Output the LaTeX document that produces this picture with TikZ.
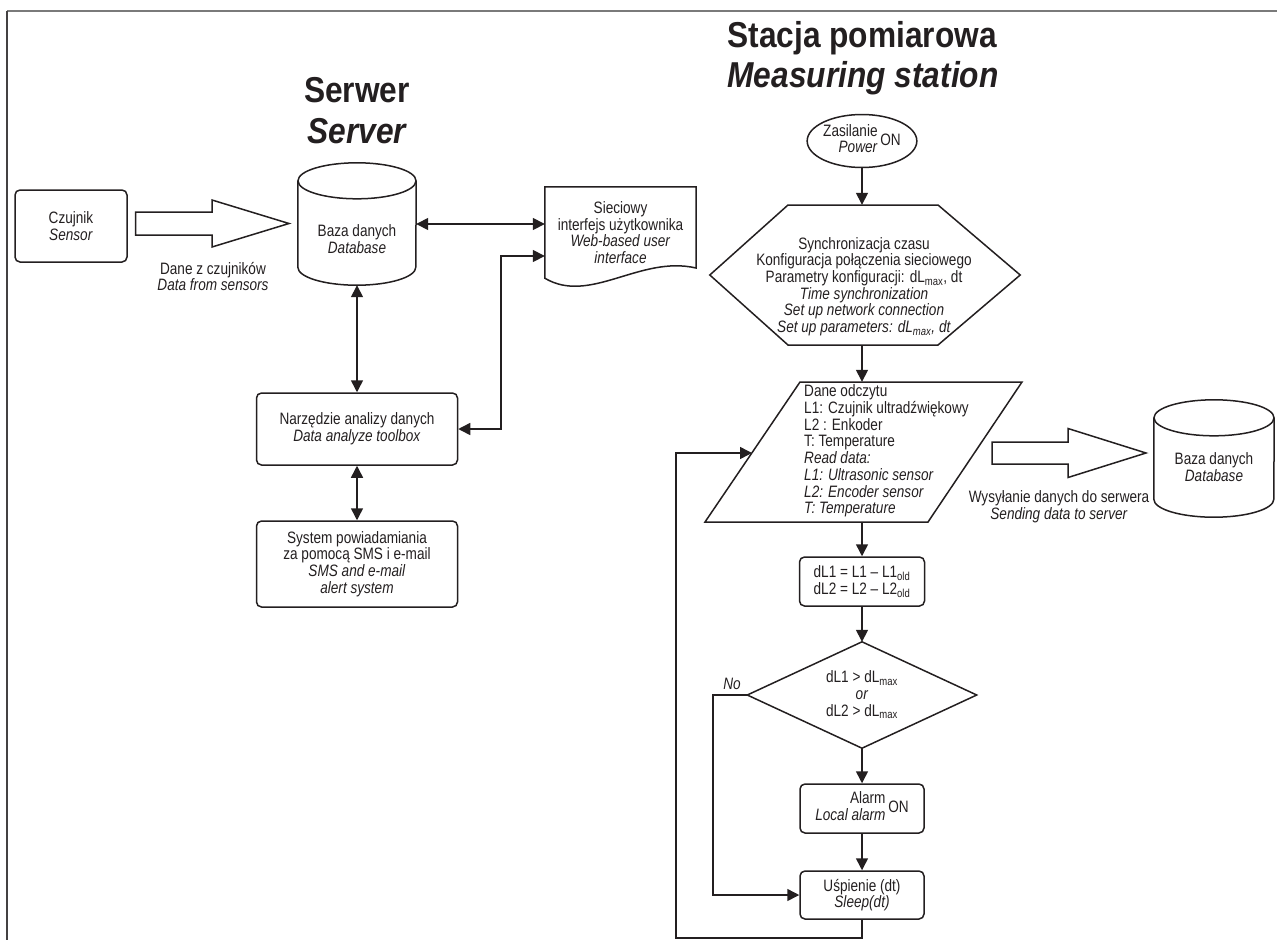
\documentclass[tikz,border=0pt]{standalone}
\usepackage{fontspec}
\setmainfont{Liberation Sans}[FakeStretch=0.824]
\newfontfamily\titlefont{Liberation Sans}[FakeStretch=0.88]
\usetikzlibrary{arrows.meta,calc,shapes.geometric}
\definecolor{ink}{HTML}{231F20}
\definecolor{framegray}{HTML}{7A7A7A}
\begin{document}
\begin{tikzpicture}[x=1pt,y=1pt,
  every node/.style={font=\fontsize{16.5}{16.7}\selectfont, text=ink, inner sep=0pt, align=center},
  >={Triangle[length=12pt,width=12pt]},
  ln/.style={draw=ink, line width=1.5pt},
  arr/.style={ln,->},
  dbl/.style={ln,<->},
  rbox/.style={draw=ink, line width=1.5pt, rounded corners=5pt},
  hollow/.style={draw=ink, line width=1.5pt, fill=white, line join=miter},
  ttl/.style={anchor=base, font=\titlefont\bfseries\fontsize{36}{40}\selectfont},
  ttli/.style={anchor=base, font=\titlefont\bfseries\itshape\fontsize{36}{40}\selectfont}
]
\useasboundingbox (0,0) rectangle (1277,-940);
% frame
\draw[framegray, line width=2pt] (7,-10.5) -- (1277,-10.5);
\draw[ink!85, line width=1.5pt] (7,-10.5) -- (7,-940);

% titles
\node[ttl] (t1a) at (357,-102) {Serwer};
\node[ttli] (t1b) at (357,-143) {Server};
\node[ttl] (t2a) at (862,-47) {Stacja pomiarowa};
\node[ttli] (t2b) at (863,-87) {Measuring station};

% ---------- server side ----------
\node[rbox, minimum width=112pt, minimum height=72pt] (sensor) at (71,-226) {Czujnik\\\textit{Sensor}};
\draw[hollow] (135.5,-212) -- (212,-212) -- (212,-200) -- (289,-223.5) -- (212,-247) -- (212,-235) -- (135.5,-235) -- cycle;
\node (lblA) at (213,-276.5) {Dane z czujników\\\textit{Data from sensors}};

\node[minimum width=118pt, minimum height=122pt] (db) at (357,-224) {};
\draw[ln] ($(db.north west)+(0,-18)$) -- ($(db.south west)+(0,18)$) arc[start angle=180, end angle=360, x radius=59pt, y radius=18pt] -- ($(db.north east)+(0,-18)$);
\draw[ln] ($(db.north)+(0,-18)$) ellipse[x radius=59pt, y radius=18pt];
\node (dbt) at (357,-239) {Baza danych\\\textit{Database}};

\node[minimum width=151pt, minimum height=91pt] (web) at (620.5,-232.5) {Sieciowy\\interfejs użytkownika\\\textit{Web-based user}\\\textit{interface}};
\draw[ln, line join=miter] (web.south west) -- (web.north west) -- (web.north east) -- (696,-268) .. controls (640,-255) and (590,-305) .. cycle;

\node[rbox, minimum width=201pt, minimum height=72pt] (narz) at (357,-429) {Narzędzie analizy danych\\\textit{Data analyze toolbox}};
\node[rbox, minimum width=201pt, minimum height=86pt] (sms) at (357,-564) {System powiadamiania\\za pomocą SMS i e-mail\\\textit{SMS and e-mail}\\\textit{alert system}};

\coordinate (wk) at (501,-256);
\draw[dbl] (db.east) -- (db.east -| web.west);
\draw[dbl] (narz.east) -| (wk) -- (wk -| web.west);
\draw[dbl] (db.south) -- (narz.north);
\draw[dbl] (narz.south) -- (sms.north);

% ---------- measuring station ----------
\node[draw=ink, ellipse, line width=1.5pt, minimum width=108pt, minimum height=53pt] (zas) at (862,-141) {\begin{tabular}{@{}r@{}}Zasilanie\\\textit{Power}\end{tabular}\,ON};

\node[minimum width=310pt, minimum height=140pt] (hex) at (865,-275) {};
\draw[ln, line join=miter] (788,-205) -- (938,-205) -- (hex.east) -- (938,-345) -- (788,-345) -- (hex.west) -- cycle;
\node (hext) at (864,-286.5) {Synchronizacja czasu\\Konfiguracja połączenia sieciowego\\Parametry konfiguracji: dL\textsubscript{max}, dt\\\textit{Time synchronization}\\\textit{Set up network connection}\\\textit{Set up parameters: dL\textsubscript{max}, dt}};

\node[minimum width=317pt, minimum height=140pt] (par) at (863.5,-452) {};
\draw[ln, line join=miter] (800,-382) -- (1022,-382) -- (928,-522) -- (705,-522) -- cycle;
\node[align=left, anchor=west] (part) at (804,-451) {Dane odczytu\\L1: Czujnik ultradźwiękowy\\L2 : Enkoder\\T: Temperature\\\textit{Read data:}\\\textit{L1: Ultrasonic sensor}\\\textit{L2: Encoder sensor}\\\textit{T: Temperature}};

\draw[hollow] (992,-442) -- (1068,-442) -- (1068,-428.5) -- (1146,-453) -- (1068,-477.5) -- (1068,-464) -- (992,-464) -- cycle;
\node (lblB) at (1059,-507) {Wysyłanie danych do serwera\\\textit{Sending data to server}};

\node[minimum width=120pt, minimum height=117pt] (db2) at (1214,-458.5) {};
\draw[ln] ($(db2.north west)+(0,-18)$) -- ($(db2.south west)+(0,18)$) arc[start angle=180, end angle=360, x radius=60pt, y radius=18pt] -- ($(db2.north east)+(0,-18)$);
\draw[ln] ($(db2.north)+(0,-18)$) ellipse[x radius=60pt, y radius=18pt];
\node (db2t) at (1214,-467) {Baza danych\\\textit{Database}};

\node[rbox, minimum width=125pt, minimum height=49pt] (form) at (862,-581.5) {dL1 = L1 – L1\textsubscript{old}\\dL2 = L2 – L2\textsubscript{old}};

\node[minimum width=229pt, minimum height=106pt] (dia) at (862,-695) {dL1 > dL\textsubscript{max}\\\textit{or}\\dL2 > dL\textsubscript{max}};
\draw[ln, line join=miter] (dia.north) -- (dia.east) -- (dia.south) -- (dia.west) -- cycle;

\node[rbox, minimum width=124pt, minimum height=49pt] (alarm) at (862,-808.5) {\begin{tabular}{@{}r@{}}Alarm\\\textit{Local alarm}\end{tabular}\,ON};
\node[rbox, minimum width=124pt, minimum height=48pt] (sleep) at (862,-895) {Uśpienie (dt)\\\textit{Sleep(dt)}};

\node (no) at (732,-684) {\textit{No}};
\coordinate (nocorner) at (713,-695);
\coordinate (loopL) at (676,-938);
\coordinate (pin) at (752,-453);

\draw[arr] (zas.south) -- (zas.south |- hex.north);
\draw[arr] (hex.south -| zas.south) -- (par.north -| zas.south);
\draw[arr] (par.south -| form.north) -- (form.north);
\draw[arr] (form.south) -- (dia.north);
\draw[arr] (dia.south) -- (alarm.north);
\draw[arr] (alarm.south) -- (sleep.north);
\draw[arr] (dia.west) -- (nocorner) |- (sleep.west);
\draw[arr] (sleep.south) |- (loopL) |- (pin);
\end{tikzpicture}
\end{document}
